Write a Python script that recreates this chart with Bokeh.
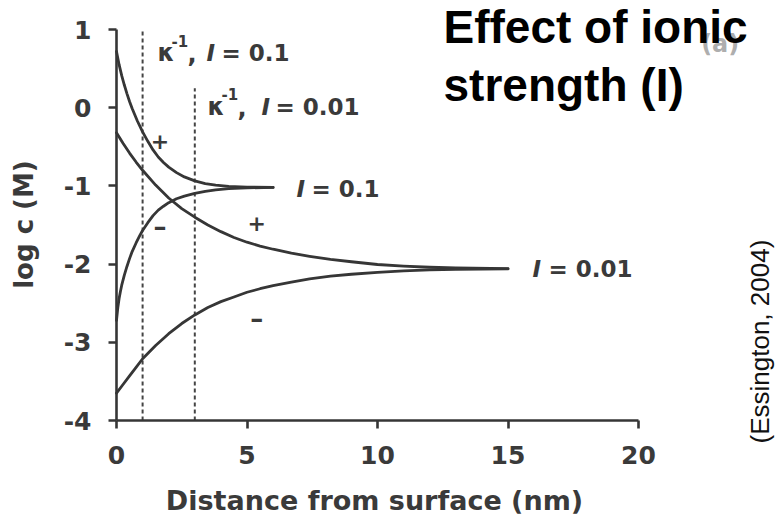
import math

from bokeh.plotting import figure
from bokeh.models import Range1d, FixedTicker, Label
from bokeh.embed import file_html
from bokeh.resources import INLINE

# Concentration profiles near a charged surface, log c (M) vs distance (nm)
# cation (+) and anion (-) for two ionic strengths
dist_cat_01 = [0, 0.1, 0.2, 0.3, 0.4, 0.5, 0.6, 0.7, 0.8, 0.9, 1.0, 1.2, 1.4,
               1.6, 1.8, 2.0, 2.3, 2.6, 3.0, 3.4, 3.8, 4.3, 5.0, 6.0]
logc_cat_01 = [0.72, 0.55, 0.41, 0.29, 0.18, 0.08, -0.01, -0.09, -0.17, -0.24,
               -0.31, -0.43, -0.54, -0.63, -0.70, -0.76, -0.83, -0.885, -0.935,
               -0.97, -0.99, -1.005, -1.015, -1.02]

dist_an_01 = [0, 0.05, 0.1, 0.15, 0.2, 0.3, 0.4, 0.5, 0.6, 0.75, 0.9, 1.0, 1.2,
              1.4, 1.6, 1.8, 2.0, 2.3, 2.6, 3.0, 3.4, 3.8, 4.3, 5.0, 6.0]
logc_an_01 = [-2.72, -2.56, -2.44, -2.35, -2.27, -2.14, -2.03, -1.93, -1.84,
              -1.73, -1.63, -1.57, -1.47, -1.38, -1.31, -1.26, -1.215, -1.165,
              -1.13, -1.095, -1.07, -1.05, -1.035, -1.025, -1.02]

dist_cat_001 = [0, 0.25, 0.5, 0.75, 1.0, 1.5, 2.0, 2.5, 3.0, 3.5, 4.0, 4.5,
                5.0, 5.5, 6.0, 6.7, 7.4, 8.2, 9.0, 10.0, 11.0, 12.0, 13.0, 15.0]
logc_cat_001 = [-0.32, -0.455, -0.58, -0.695, -0.80, -0.99, -1.155, -1.29,
                -1.40, -1.50, -1.585, -1.66, -1.72, -1.77, -1.81, -1.86, -1.90,
                -1.94, -1.97, -2.005, -2.025, -2.04, -2.05, -2.058]

dist_an_001 = [0, 0.25, 0.5, 0.75, 1.0, 1.5, 2.0, 2.5, 3.0, 3.5, 4.0, 4.5,
               5.0, 5.5, 6.0, 6.7, 7.4, 8.2, 9.0, 10.0, 11.0, 12.0, 13.0, 15.0]
logc_an_001 = [-3.65, -3.54, -3.43, -3.32, -3.21, -3.04, -2.89, -2.76, -2.65,
               -2.555, -2.48, -2.42, -2.36, -2.315, -2.275, -2.23, -2.19,
               -2.155, -2.13, -2.105, -2.087, -2.075, -2.068, -2.062]

# Debye lengths (nm) and the top of each marker line
kappa_inv = [1.0, 3.0]
kappa_top = [1.0, 0.25]
kappa_bottom = [-4.0, -4.0]

x_ticks = [0, 5, 10, 15, 20]
y_ticks = [-4, -3, -2, -1, 0, 1]

INK = "#363636"
TXT = "#3a3a3a"
SCAN_FONT = "DejaVu Sans"

# Scale: 26.1 px per nm, 78.2 px per decade.  The frame fills the whole
# canvas so that the heading and the source note beside the graph are not
# clipped; the two axes are pinned at x = 0 and log c = -4.
PX_X, PX_Y = 26.1, 78.2
LEFT, TOP, W, H = 116, 29, 777, 524
p = figure(width=W, height=H, output_backend="svg", toolbar_location=None,
           x_range=Range1d(-LEFT / PX_X, (W - LEFT) / PX_X),
           y_range=Range1d(1 - (H - TOP) / PX_Y, 1 + TOP / PX_Y),
           min_border=0)
p.background_fill_color = "white"
p.border_fill_color = "white"
p.outline_line_color = None
p.grid.visible = False

p.xaxis.ticker = FixedTicker(ticks=x_ticks)
p.yaxis.ticker = FixedTicker(ticks=y_ticks)
p.xaxis.bounds = (x_ticks[0], x_ticks[-1])
p.yaxis.bounds = (y_ticks[0], y_ticks[-1])
p.xaxis.fixed_location = y_ticks[0]
p.yaxis.fixed_location = x_ticks[0]
p.yaxis.major_label_overrides = {t: str(t) for t in y_ticks}
for ax in (p.xaxis[0], p.yaxis[0]):
    ax.axis_line_color = INK
    ax.axis_line_width = 2.6
    ax.major_tick_line_color = INK
    ax.major_tick_line_width = 2.6
    ax.major_tick_out = 8
    ax.major_tick_in = 0
    ax.minor_tick_line_color = None
    ax.major_label_text_font = SCAN_FONT
    ax.major_label_text_font_style = "bold"
    ax.major_label_text_font_size = "25px"
    ax.major_label_text_color = TXT
p.xaxis.major_label_standoff = 17
p.yaxis.major_label_standoff = 17

# Debye length markers
p.segment(x0=kappa_inv, y0=kappa_bottom, x1=kappa_inv, y1=kappa_top,
          line_color="#444444", line_width=2, line_dash="4 3")

# Concentration curves
for xs, ys in ((dist_cat_01, logc_cat_01), (dist_an_01, logc_an_01),
               (dist_cat_001, logc_cat_001), (dist_an_001, logc_an_001)):
    p.line(xs, ys, line_color=INK, line_width=2.8, line_join="round",
           line_cap="round")


def add_text(x, y, text, size="23px", style="bold", color=TXT, font=SCAN_FONT,
             align="left", angle=0.0, alpha=1.0):
    # every text is anchored at its vertical middle
    p.add_layout(Label(x=x, y=y, text=text, text_font=font,
                       text_font_style=style, text_font_size=size,
                       text_color=color, text_align=align,
                       text_baseline="middle", angle=angle,
                       text_alpha=alpha))


# Axis titles
add_text(9.885, -5.023, "Distance from surface (nm)", size="27px",
         align="center")
add_text(-3.56, -1.494, "log c (M)", size="26px", align="center",
         angle=math.pi / 2)

# Debye length labels: kappa^-1, I = ...
add_text(1.57, 0.70, "κ", size="24px")
add_text(2.11, 0.847, "-1", size="15px")
add_text(2.72, 0.70, ",", size="24px")
add_text(3.45, 0.70, "I", style="bold italic")
add_text(4.02, 0.70, "= 0.1")

add_text(3.49, 0.015, "κ", size="24px")
add_text(4.02, 0.169, "-1", size="15px")
add_text(4.64, 0.015, ",", size="24px")
add_text(5.56, 0.015, "I", style="bold italic")
add_text(6.09, 0.015, "= 0.01")

# Bulk ionic strength labels
add_text(6.90, -1.046, "I", style="bold italic")
add_text(7.47, -1.046, "= 0.1")
add_text(15.94, -2.069, "I", style="bold italic")
add_text(16.55, -2.069, "= 0.01")

# Ion signs
add_text(1.67, -0.42, "+", size="22px", align="center")
add_text(1.67, -1.53, "–", size="26px", align="center")
add_text(5.37, -1.47, "+", size="22px", align="center")
add_text(5.37, -2.70, "–", size="26px", align="center")

# Faint panel letter behind the heading
add_text(22.4, 0.815, "(a)", size="24px", color="#8a8a8a", alpha=0.7)

# Heading
add_text(12.53, 1.026, "Effect of ionic", size="46px", color="black",
         font="Liberation Sans")
add_text(12.53, 0.284, "strength (I)", size="46px", color="black",
         font="Liberation Sans")

# Source
add_text(24.67, -4.294, "(Essington, 2004)", size="26px", style="normal",
         color="#111111", font="Liberation Sans", angle=math.pi / 2)

open("out.html", "w").write(file_html(p, INLINE))
